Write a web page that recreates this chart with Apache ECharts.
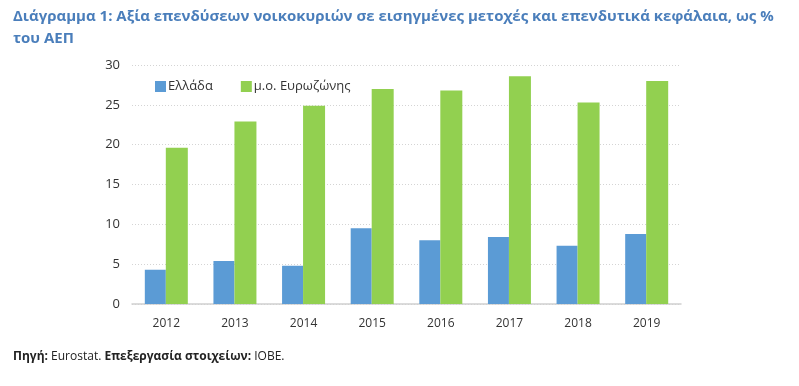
<!DOCTYPE html>
<html><head><meta charset="utf-8">
<script src="https://cdn.jsdelivr.net/npm/echarts@6/dist/echarts.min.js"></script>
<style>html,body{margin:0;padding:0;background:#fff}#c{width:799px;height:386px}</style>
</head><body><div id="c"></div>
<script>
const categories = ['2012','2013','2014','2015','2016','2017','2018','2019'];
const greece = [4.3, 5.4, 4.8, 9.5, 8.0, 8.4, 7.3, 8.8];
const euroArea = [19.6, 22.9, 24.9, 27.0, 26.8, 28.6, 25.3, 28.0];
const seriesNames = ['Ελλάδα', 'μ.ο. Ευρωζώνης'];
const titleText = 'Διάγραμμα 1: Αξία επενδύσεων νοικοκυριών σε εισηγμένες μετοχές και επενδυτικά κεφάλαια, ως %\nτου ΑΕΠ';

const chart = echarts.init(document.getElementById('c'), null, {renderer:'canvas'});
chart.setOption({
  animation: false,
  title: [{
    text: titleText, left: 8, top: 1,
    textStyle: {color:'#4A7EBB', fontSize:15, fontWeight:'bold', fontFamily:'Liberation Sans Narrow, Open Sans, sans-serif', lineHeight:22}
  },{
    text: '{b|Πηγή:} Eurostat. {b|Επεξεργασία στοιχείων:} ΙΟΒΕ.',
    left: 8, top: 346,
    textStyle: {fontSize:12, fontWeight:'normal', color:'#222', fontFamily:'Open Sans, sans-serif',
      rich:{b:{fontWeight:'bold', fontSize:12, color:'#222', fontFamily:'Open Sans, sans-serif'}}}
  }],
  legend: {
    left: 150, top: 75, itemWidth: 11, itemHeight: 11, itemGap: 28,
    icon: 'rect',
    textStyle: {fontSize:13, color:'#333', fontFamily:'Open Sans, sans-serif', padding:[0,0,0,-3]},
    data: seriesNames
  },
  grid: {left: 132, right: 118, top: 65, bottom: 82},
  xAxis: {
    type:'category', data: categories,
    axisLine:{lineStyle:{color:'#d0d0d0', width:1.5}},
    axisTick:{show:false},
    axisLabel:{color:'#333', fontSize:12, margin:14, fontFamily:'Open Sans, sans-serif'}
  },
  yAxis: {
    type:'value', min:0, max:30, interval:5,
    axisLine:{show:false}, axisTick:{show:false},
    axisLabel:{color:'#333', fontSize:13, margin:12, fontFamily:'Open Sans, sans-serif'},
    splitLine:{lineStyle:{color:'#d4d4d4', type:[1,2], width:1}}
  },
  series: [
    {name: seriesNames[0], type:'bar', data: greece, barWidth: 21, barGap:'0%',
      itemStyle:{color:'#5B9BD5'}},
    {name: seriesNames[1], type:'bar', data: euroArea, barWidth: 22,
      itemStyle:{color:'#92D050'}}
  ]
});
</script></body></html>
